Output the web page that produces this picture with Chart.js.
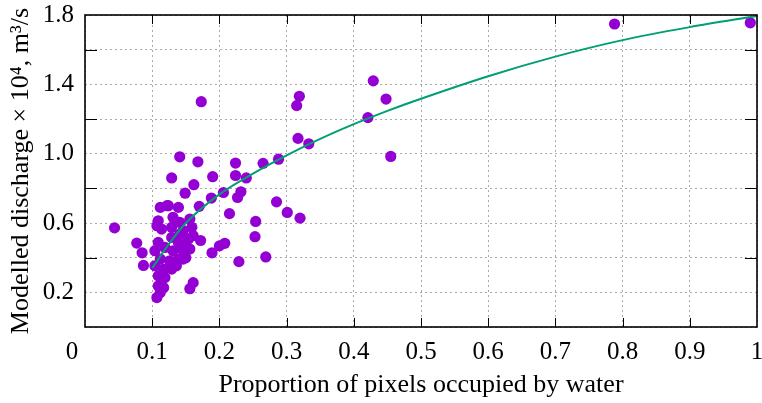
<!DOCTYPE html>
<html>
<head>
<meta charset="utf-8">
<script src="https://cdn.jsdelivr.net/npm/chart.js@4.4.1/dist/chart.umd.min.js"></script>
<style>
  body { margin: 0; background: #fff; }
  #wrap { width: 762px; height: 403px; }
</style>
</head>
<body>
<div id="wrap"><canvas id="chart" width="762" height="403"></canvas></div>
<script>
// proportion of water pixels (x) and modelled discharge x 10^4 (y)
const waterProportion = [
    0.044, 0.077, 0.085, 0.087, 0.173, 0.141, 0.168, 0.224, 0.265, 0.288,
    0.129, 0.190, 0.224, 0.240, 0.162, 0.149, 0.206, 0.232, 0.227, 0.188,
    0.170, 0.285, 0.215, 0.301, 0.320, 0.254, 0.253, 0.172, 0.208, 0.200,
    0.189, 0.269, 0.229, 0.161, 0.156, 0.107, 0.112, 0.319, 0.315, 0.317,
    0.333, 0.421, 0.429, 0.448, 0.455, 0.788, 0.990,
    0.112, 0.122, 0.139, 0.109, 0.114, 0.131, 0.129, 0.141, 0.146, 0.129,
    0.139, 0.109, 0.104, 0.119, 0.131, 0.144, 0.112, 0.126, 0.139, 0.104,
    0.117, 0.129, 0.109, 0.119, 0.109, 0.117, 0.136, 0.156, 0.159, 0.154,
    0.156, 0.150, 0.146, 0.161, 0.141, 0.146, 0.107, 0.124
];
const dischargeValues = [
    0.572, 0.484, 0.428, 0.355, 1.300, 0.982, 0.953, 0.946, 0.944, 0.968,
    0.860, 0.867, 0.874, 0.860, 0.821, 0.772, 0.776, 0.780, 0.747, 0.744,
    0.696, 0.722, 0.654, 0.661, 0.628, 0.609, 0.521, 0.499, 0.483, 0.468,
    0.428, 0.404, 0.377, 0.256, 0.221, 0.170, 0.199, 1.331, 1.277, 1.088,
    1.057, 1.208, 1.420, 1.315, 0.984, 1.748, 1.755,
    0.690, 0.700, 0.690, 0.613, 0.565, 0.633, 0.575, 0.604, 0.556, 0.517,
    0.488, 0.488, 0.440, 0.459, 0.440, 0.450, 0.392, 0.382, 0.392, 0.353,
    0.334, 0.334, 0.295, 0.285, 0.237, 0.227, 0.353, 0.623, 0.575, 0.507,
    0.450, 0.400, 0.392, 0.527, 0.536, 0.469, 0.584, 0.700
];

// fitted curve
const fitX = [0.10, 0.125, 0.15, 0.20, 0.25, 0.30, 0.35, 0.40, 0.45, 0.50, 0.60, 0.70, 0.80, 0.90, 1.00];
const fitY = [0.34, 0.48, 0.60, 0.765, 0.885, 0.99, 1.085, 1.17, 1.247, 1.317, 1.447, 1.56, 1.655, 1.73, 1.795];

const xTickValues = [0.1, 0.2, 0.3, 0.4, 0.5, 0.6, 0.7, 0.8, 0.9];
const yLabelledTicks = ['0.2', '0.6', '1.0', '1.4', '1.8'];
const yUnlabelledTicks = [0.4, 0.8, 1.2, 1.6];

const serif = '"Liberation Serif", "Times New Roman", serif';
const purple = 'rgb(148, 0, 211)';
const green = 'rgb(0, 158, 115)';

const scatterPoints = waterProportion.map((v, i) => ({ x: v, y: dischargeValues[i] }));
const fitPoints = fitX.map((v, i) => ({ x: v, y: fitY[i] }));

const noScalePadding = (scale) => {
    scale.paddingLeft = 0;
    scale.paddingRight = 0;
    scale.paddingTop = 0;
    scale.paddingBottom = 0;
};

// frame, inward tick marks and the lone "0" label (sits left of the axis in the original)
const frameAndTicks = {
    id: 'frameAndTicks',
    afterDatasetsDraw(chart) {
        const { ctx, chartArea: a, scales: { x, y } } = chart;
        ctx.save();
        ctx.strokeStyle = '#000';
        ctx.lineWidth = 1;
        ctx.beginPath();
        xTickValues.forEach((v) => {
            const px = Math.round(x.getPixelForValue(v)) + 0.5;
            ctx.moveTo(px, a.bottom);
            ctx.lineTo(px, a.bottom - 9);
            ctx.moveTo(px, a.top);
            ctx.lineTo(px, a.top + 9);
        });
        yUnlabelledTicks.forEach((v) => {
            const py = Math.round(y.getPixelForValue(v)) + 0.5;
            ctx.moveTo(a.left, py);
            ctx.lineTo(a.left + 12, py);
            ctx.moveTo(a.right, py);
            ctx.lineTo(a.right - 12, py);
        });
        ctx.stroke();
        ctx.lineWidth = 1.6;
        ctx.strokeRect(a.left, a.top, a.right - a.left, a.bottom - a.top);
        ctx.fillStyle = '#000';
        ctx.font = '25px ' + serif;
        ctx.textAlign = 'center';
        ctx.textBaseline = 'middle';
        ctx.fillText('0', x.getPixelForValue(0) - 13, a.bottom + 25);
        ctx.restore();
    },
};

const ctx = document.getElementById('chart').getContext('2d');
new Chart(ctx, {
    type: 'scatter',
    data: {
        datasets: [
            {
                label: 'Fit',
                data: fitPoints,
                showLine: true,
                borderColor: green,
                borderWidth: 2,
                pointRadius: 0,
                fill: false,
                cubicInterpolationMode: 'monotone',
                order: 0,
            },
            {
                label: 'Discharge',
                data: scatterPoints,
                backgroundColor: purple,
                borderWidth: 0,
                pointRadius: 5.6,
                order: 1,
            },
        ],
    },
    options: {
        responsive: false,
        animation: false,
        events: [],
        layout: { autoPadding: false, padding: { left: 0, right: 5, top: 15, bottom: 0 } },
        plugins: { legend: { display: false }, tooltip: { enabled: false } },
        scales: {
            x: {
                type: 'linear',
                min: 0,
                max: 1,
                afterFit: (scale) => {
                    scale.height = 76;
                    noScalePadding(scale);
                },
                afterBuildTicks: (scale) => {
                    scale.ticks = [0].concat(xTickValues, [1]).map((v) => ({ value: v }));
                },
                ticks: {
                    padding: 10,
                    color: '#000',
                    font: { family: serif, size: 25 },
                    callback: (v) => (v === 0 ? '' : v === 1 ? '1' : v.toFixed(1)),
                },
                grid: { color: '#aaaaaa', lineWidth: 1, drawTicks: false },
                border: { display: false, dash: [2, 3] },
                title: {
                    display: true,
                    text: 'Proportion of pixels occupied by water',
                    color: '#000',
                    font: { family: serif, size: 26 },
                    padding: { top: 0, bottom: 2 },
                },
            },
            y: {
                type: 'linear',
                min: 0,
                max: 1.8,
                afterFit: (scale) => {
                    scale.width = 85;
                    noScalePadding(scale);
                },
                afterBuildTicks: (scale) => {
                    scale.ticks = [0, 0.2, 0.4, 0.6, 0.8, 1.0, 1.2, 1.4, 1.6, 1.8].map((v) => ({ value: v }));
                },
                ticks: {
                    padding: 11,
                    color: '#000',
                    font: { family: serif, size: 25 },
                    callback: (v) => {
                        const s = v.toFixed(1);
                        return yLabelledTicks.includes(s) ? s : '';
                    },
                },
                grid: { color: '#aaaaaa', lineWidth: 1, drawTicks: false },
                border: { display: false, dash: [2, 3] },
                title: {
                    display: true,
                    text: 'Modelled discharge \u00d7 10\u2074, m\u00b3/s',
                    color: '#000',
                    font: { family: serif, size: 26 },
                    padding: { top: 6, bottom: 0 },
                },
            },
        },
    },
    plugins: [frameAndTicks],
});
</script>
</body>
</html>
